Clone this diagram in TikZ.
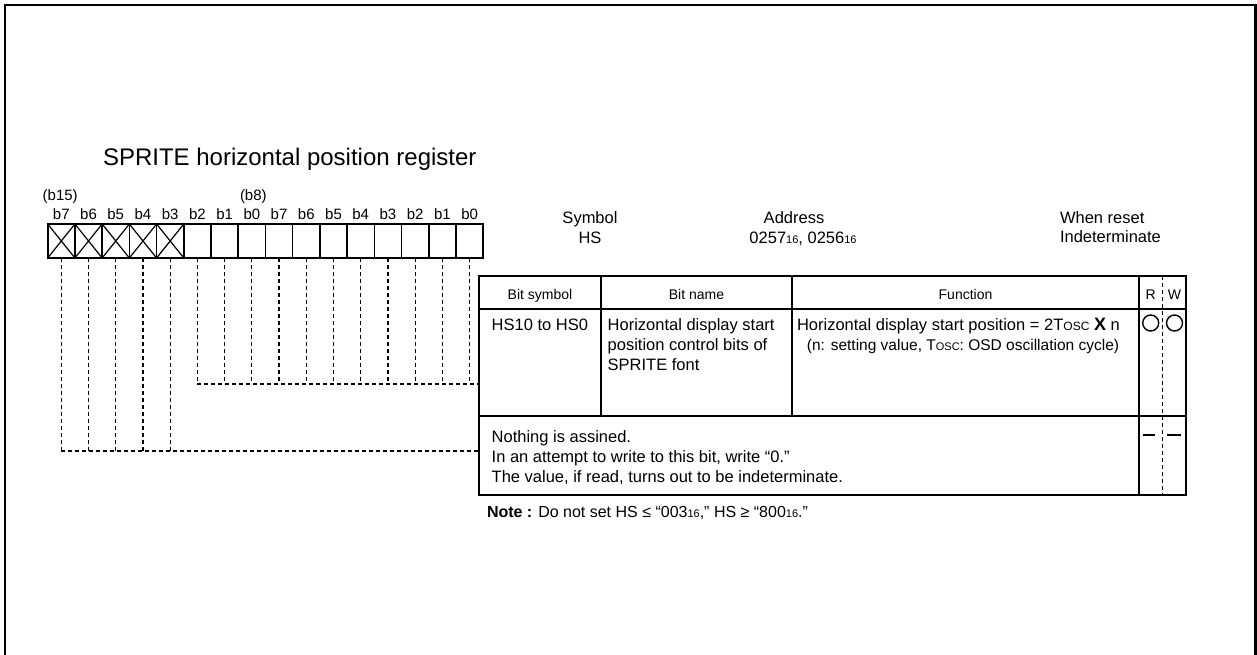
\documentclass[tikz,border=0pt]{standalone}
\usepackage{fontspec}
\setmainfont{Liberation Sans}
\newcommand\fsz[2]{\fontsize{#1}{#2}\selectfont}
\newcommand\hexs{{\fsz{11}{12}16}}
\newcommand\toscs[1]{T{\fsz{#1}{12}OSC}}
\tikzset{
  cell/.style={draw, line width=1.6pt, minimum width=27.22pt, minimum height=34pt, inner sep=0pt, outer sep=0pt},
  dline/.style={dash pattern=on 4pt off 3pt, line width=1.2pt},
  tline/.style={line width=1.8pt},
  txt/.style={inner sep=0pt, outer sep=0pt},
  bitlbl/.style={txt, anchor=base, font=\fsz{15}{18}},
  body/.style={txt, anchor=base west, font=\fsz{16.5}{20}},
  bodyc/.style={txt, anchor=base, font=\fsz{16.5}{20}},
  hdr/.style={txt, anchor=base, font=\fsz{14}{17}},
}
\begin{document}
\begin{tikzpicture}[x=1pt,y=-1pt]
\useasboundingbox (0,0) rectangle (1257,655);
% frame
\draw[line width=2.2pt] (5,656) -- (5,5) -- (1255.5,5) -- (1255.5,656);
% title
\node[txt, anchor=base west, font=\fsz{24}{28}] (title) at (103,165.6) {SPRITE horizontal position register};
% bit cells
\foreach \i in {0,...,15} {
  \node[cell] (c\i) at ({47.7+27.22*(\i+0.5)},241) {};
}
\foreach \i in {0,...,4} {
  \draw[line width=1.2pt] (c\i.north west) -- (c\i.south east) (c\i.south west) -- (c\i.north east);
}
\foreach \i/\l in {0/b7,1/b6,2/b5,3/b4,4/b3,5/b2,6/b1,7/b0,8/b7,9/b6,10/b5,11/b4,12/b3,13/b2,14/b1,15/b0} {
  \node[bitlbl] (l\i) at ({47.7+27.22*(\i+0.5)},219.7) {\l};
}
\node[txt, anchor=base west, font=\fsz{15}{18}] (b15) at (42.7,200.4) {(b15)};
\node[txt, anchor=base west, font=\fsz{15}{18}] (b8) at (240,200.4) {(b8)};
% symbol / address / reset
\node[bodyc] (sym) at (590,223.6) {Symbol};
\node[bodyc] (symv) at (590,243.6) {HS};
\node[bodyc] (addr) at (794,223.6) {Address};
\node[bodyc] (addrv) at (803,243.6) {0257\hexs, 0256\hexs};
\node[body] (rst) at (1060,223.6) {When reset};
\node[body] (rstv) at (1060,242.6) {Indeterminate};
% table
\coordinate (jA) at (479,451);
\coordinate (jB) at (479,384);
\draw[tline] (479,276) rectangle (1186,495);
\draw[tline] (479,309) -- (1186,309);
\draw[tline] (479,416) -- (1186,416);
\draw[tline] (601,276) -- (601,416);
\draw[tline] (792,276) -- (792,416);
\draw[tline] (1139,276) -- (1139,495);
\draw[dline] (1162.5,276) -- (1162.5,495);
% header
\node[hdr] (h1) at (540,299) {Bit symbol};
\node[hdr] (h2) at (696.5,299) {Bit name};
\node[hdr] (h3) at (965.5,299) {Function};
\node[hdr] (hR) at (1150.7,299) {R};
\node[hdr] (hW) at (1174.5,299) {W};
% row 1
\node[body] (r1a) at (491.7,330) {HS10 to HS0};
\node[body] (r1b1) at (607.7,330) {Horizontal display start};
\node[body] (r1b2) at (607.7,350) {position control bits of};
\node[body] (r1b3) at (607.7,370) {SPRITE font};
\node[body] (r1c1) at (797,330) {Horizontal display start position = 2\toscs{12} {\fsz{18}{20}\textbf{X}} n};
\node[txt, anchor=base, font=\fsz{15.5}{18}] (r1c2) at (963,350) {(n: setting value, \toscs{11}: OSD oscillation cycle)};
\draw[line width=1.4pt] (1150.7,323) circle [radius=8pt];
\draw[line width=1.4pt] (1174.5,323) circle [radius=8pt];
% row 2
\node[body] (r2a) at (491.7,442.9) {Nothing is assined.};
\node[body] (r2b) at (491.7,462.9) {In an attempt to write to this bit, write “0.”};
\node[body] (r2c) at (491.7,482.9) {The value, if read, turns out to be indeterminate.};
\draw[line width=1.6pt] (1143,435) -- (1155,435) (1167,435) -- (1181,435);
% dashed connectors
\foreach \i in {0,...,4} {
  \draw[dline] (c\i.south) -- (c\i.south |- jA);
}
\draw[dline] (c0.south |- jA) -- (jA);
\foreach \i in {5,...,15} {
  \draw[dline] (c\i.south) -- (c\i.south |- jB);
}
\draw[dline] (c5.south |- jB) -- (jB);
% note
\node[txt, anchor=base west, font=\fsz{16}{18}] (note) at (487,517.5) {\textbf{Note :} Do not set HS ≤ “003\hexs,” HS ≥ “800\hexs.”};
\end{tikzpicture}
\end{document}
